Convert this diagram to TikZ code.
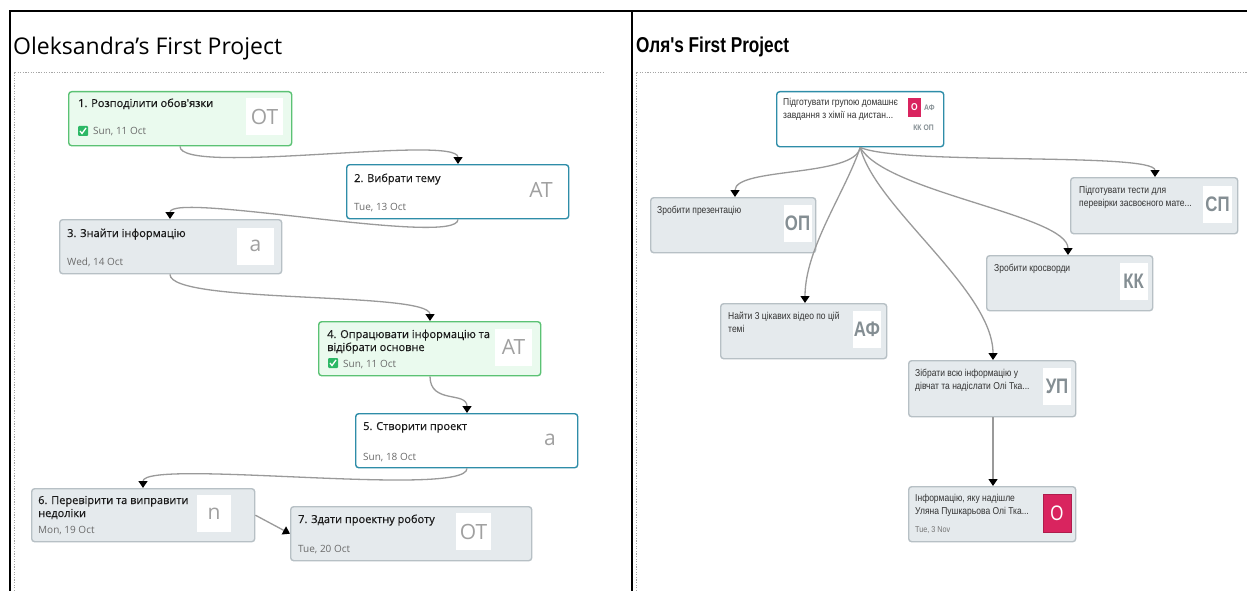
\documentclass[tikz,border=0pt]{standalone}
\usepackage{fontspec}
\setmainfont{Open Sans}[Ligatures=ResetAll]
\newfontfamily\tfont[FakeBold=0.35,Ligatures=ResetAll]{Open Sans}
\newfontfamily\rfont[FakeStretch=0.85]{Liberation Sans}
\newfontfamily\rtfont[FakeStretch=0.8]{Liberation Sans}
\usetikzlibrary{arrows.meta}
\definecolor{grayfill}{HTML}{E5EAED}
\definecolor{grayline}{HTML}{B7C0C5}
\definecolor{greenline}{HTML}{5BC274}
\definecolor{greenfill}{HTML}{EAFAEE}
\definecolor{tealline}{HTML}{2E8DA8}
\definecolor{redbox}{HTML}{D9245F}
\definecolor{conncol}{HTML}{9A9A9A}
\definecolor{avcol}{HTML}{A0A0A0}
\definecolor{ravcol}{HTML}{848E93}
\definecolor{chkcol}{HTML}{2DB866}
\tikzset{
  card/.style={anchor=north west, rounded corners=3pt, line width=1.4pt, inner sep=0pt},
  gcard/.style={card, draw=grayline, fill=grayfill},
  greencard/.style={card, draw=greenline, fill=greenfill},
  tealcard/.style={card, draw=tealline, fill=white},
  ttl/.style={anchor=base west, inner sep=0pt, font=\tfont\fontsize{11}{13}\selectfont, text=black!90},
  dat/.style={anchor=base west, inner sep=0pt, font=\fontsize{10}{12}\selectfont, text=black!58},
  av/.style={fill=white, inner sep=0pt, minimum width=37pt, minimum height=37pt, font=\fontsize{21}{21}\selectfont, text=avcol},
  rttl/.style={anchor=base west, inner sep=0pt, font=\rfont\fontsize{10}{12}\selectfont, text=black!80},
  rav/.style={fill=white, inner sep=0pt, minimum width=28pt, minimum height=37pt, font=\rtfont\bfseries\fontsize{21}{21}\selectfont, text=ravcol},
  chk/.style={fill=chkcol, rounded corners=1pt, inner sep=0pt, minimum size=10pt},
  conn/.style={draw=conncol, line width=1.3pt, -{Triangle[length=7pt,width=9pt,color=black]}},
  frame/.style={line width=2.6pt, draw=black},
  dots/.style={draw=black!35, line width=0.7pt, dash pattern=on 1.2pt off 1.4pt},
}
\begin{document}
\begin{tikzpicture}[x=1pt,y=-1pt]
\useasboundingbox (0,0) rectangle (1247,591);
\fill[white] (0,0) rectangle (1247,591);
% frames
\draw[frame] (10,591) -- (10,11) -- (1247,11);
\draw[frame] (632,11) -- (632,591);
% titles
\node[anchor=base west, inner sep=0pt, font=\fontsize{23}{26}\selectfont] (lt) at (13,55) {Oleksandra's First Project};
\node[anchor=base west, inner sep=0pt, font=\rtfont\bfseries\fontsize{21.5}{24}\selectfont] (rt) at (636,53) {Оля's First Project};
\draw[dots] (14,591) -- (14,72) -- (603,72);
\draw[dots] (636,591) -- (636,72) -- (1247,72);

% ===== left panel =====
\node[greencard, minimum width=223pt, minimum height=54pt] (n1) at (68,91) {};
\node[ttl] (n1t) at (78,107) {1. Розподілити обов'язки};
\node[chk] (n1c) at (83,131) {};
\draw[white, line width=1.3pt] ([xshift=-3pt]n1c.center) -- ++(2,2.5) -- ++(4,-5.5);
\node[dat] (n1d) at (93,135) {Sun, 11 Oct};
\node[av] (n1a) at (264.5,116.5) {ОТ};

\node[tealcard, minimum width=222pt, minimum height=54pt] (n2) at (346,164) {};
\node[ttl] (n2t) at (354,182) {2. Вибрати тему};
\node[dat] (n2d) at (354,210) {Tue, 13 Oct};
\node[av] (n2a) at (541,190) {АТ};

\node[gcard, minimum width=222pt, minimum height=54pt] (n3) at (59,219) {};
\node[ttl] (n3t) at (67,237) {3. Знайти інформацію};
\node[dat] (n3d) at (67,265) {Wed, 14 Oct};
\node[av] (n3a) at (255.5,246) {a};

\node[greencard, minimum width=222pt, minimum height=54pt] (n4) at (318,321) {};
\node[ttl] (n4t) at (327,338) {4. Опрацювати інформацію та};
\node[ttl] (n4u) at (327,351) {відібрати основне};
\node[chk] (n4c) at (333,363) {};
\draw[white, line width=1.3pt] ([xshift=-3pt]n4c.center) -- ++(2,2.5) -- ++(4,-5.5);
\node[dat] (n4d) at (343,367) {Sun, 11 Oct};
\node[av] (n4a) at (513.5,347) {АТ};

\node[tealcard, minimum width=222pt, minimum height=54pt] (n5) at (355,413) {};
\node[ttl] (n5t) at (363,430) {5. Створити проект};
\node[dat] (n5d) at (363,460) {Sun, 18 Oct};
\node[av] (n5a) at (550,440) {a};

\node[gcard, minimum width=223pt, minimum height=53pt] (n6) at (31,488) {};
\node[ttl] (n6t) at (38,504) {6. Перевірити та виправити};
\node[ttl] (n6u) at (38,517) {недоліки};
\node[dat] (n6d) at (38,533) {Mon, 19 Oct};
\node[av, minimum width=34pt] (n6a) at (214,513.5) {n};

\node[gcard, minimum width=241pt, minimum height=54pt] (n7) at (290,506) {};
\node[ttl] (n7t) at (298,523) {7. Здати проектну роботу};
\node[dat] (n7d) at (298,552) {Tue, 20 Oct};
\node[av, minimum width=35pt] (n7a) at (473.5,531.5) {ОТ};

% left connectors
\draw[conn] ([xshift=112pt]n1.south west) .. controls +(0,30) and +(0,-30) .. ([xshift=112pt]n2.north west);
\draw[conn] ([xshift=112pt]n2.south west) .. controls +(0,28) and +(0,-28) .. ([xshift=111pt]n3.north west);
\draw[conn] ([xshift=111pt]n3.south west) .. controls +(0,30) and +(0,-30) .. ([xshift=112pt]n4.north west);
\draw[conn] ([xshift=112pt]n4.south west) .. controls +(0,28) and +(0,-22) .. ([xshift=112pt]n5.north west);
\draw[conn] ([xshift=112pt]n5.south west) .. controls +(0,30) and +(0,-30) .. ([xshift=112pt]n6.north west);
\draw[conn] (n6.east) -- (n7.west);

% ===== right panel =====
\node[tealcard, minimum width=167pt, minimum height=55pt] (r0) at (776,91) {};
\node[rttl] (r0t) at (783,106) {Підготувати групою домашнє};
\node[rttl] (r0u) at (783,119) {завдання з хімії на дистан...};
\node[fill=redbox, inner sep=0pt, minimum width=13pt, minimum height=19pt, text=white, font=\rfont\bfseries\fontsize{10}{10}\selectfont] (r0r) at (914.5,107.5) {О};
\node[inner sep=0pt, text=ravcol, font=\rfont\bfseries\fontsize{8}{8}\selectfont, anchor=west] (r0f) at (924,107.5) {АФ};
\node[inner sep=0pt, text=ravcol, font=\rfont\bfseries\fontsize{8}{8}\selectfont] (r0k) at (923.5,128) {КК ОП};

\node[gcard, minimum width=165pt, minimum height=55pt] (ra) at (650,197) {};
\node[rttl] (rat) at (657,213) {Зробити презентацію};
\node[rav] (raa) at (797.5,223.5) {ОП};

\node[gcard, minimum width=167pt, minimum height=56pt] (rb) at (1070,177) {};
\node[rttl] (rbt) at (1079,193) {Підготувати тести для};
\node[rttl] (rbu) at (1079,206) {перевірки засвоєного мате...};
\node[rav, minimum width=29pt] (rba) at (1217.5,204) {СП};

\node[gcard, minimum width=166pt, minimum height=55pt] (rc) at (986,255) {};
\node[rttl] (rct) at (994,271) {Зробити кросворди};
\node[rav] (rca) at (1133.5,281.5) {КК};

\node[gcard, minimum width=166pt, minimum height=55pt] (rd) at (720,303) {};
\node[rttl] (rdt) at (728,319) {Найти 3 цікавих відео по цій};
\node[rttl] (rdu) at (728,332) {темі};
\node[rav] (rda) at (867,329.5) {АФ};

\node[gcard, minimum width=167pt, minimum height=56pt] (re) at (908,360) {};
\node[rttl] (ret) at (915,376) {Зібрати всю інформацію у};
\node[rttl] (reu) at (915,389) {дівчат та надіслати Олі Тка...};
\node[rav] (rea) at (1057,386.5) {УП};

\node[gcard, minimum width=167pt, minimum height=55pt] (rf) at (908,486) {};
\node[rttl] (rft) at (915,501) {Інформацію, яку надішле};
\node[rttl] (rfu) at (915,514) {Уляна Пушкарьова Олі Тка...};
\node[anchor=base west, inner sep=0pt, font=\rfont\fontsize{8.5}{10}\selectfont, text=black!55] (rfd) at (915,532) {Tue, 3 Nov};
\node[fill=redbox, draw=redbox!80!black, line width=0.6pt, inner sep=0pt, minimum width=28pt, minimum height=38pt, text=white, font=\rtfont\fontsize{21}{21}\selectfont] (rfa) at (1057,513) {О};

% right connectors
\draw[conn] (r0.south) .. controls +(-5,30) and +(0,-30) .. ([xshift=85pt]ra.north west);
\draw[conn] (r0.south) .. controls +(-15,45) and +(0,-55) .. ([xshift=85pt]rd.north west);
\draw[conn] (r0.south) .. controls +(15,60) and +(0,-70) .. ([xshift=85pt]re.north west);
\draw[conn] (r0.south) .. controls +(25,45) and +(0,-40) .. ([xshift=82pt]rc.north west);
\draw[conn] (r0.south) .. controls +(40,18) and +(0,-25) .. ([xshift=85pt]rb.north west);
\draw[conn] ([xshift=85pt]re.south west) -- ([xshift=85pt]rf.north west);
\end{tikzpicture}
\end{document}
